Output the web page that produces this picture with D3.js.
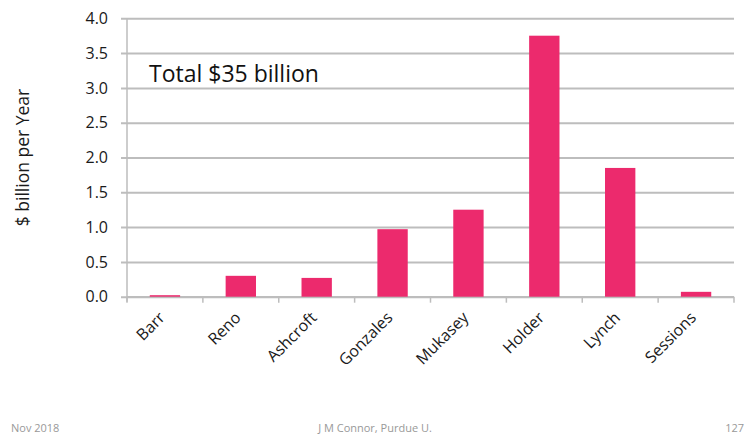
<!DOCTYPE html>
<html lang="en">
  <head>
    <meta charset="UTF-8" />
    <title>Attorney General spending per year</title>
    <script src="https://d3js.org/d3.v7.min.js"></script>
    <style>
      body {
        margin: 0;
        background: #fff;
      }
      svg text {
        font-family: "Open Sans", Lato, sans-serif;
      }
    </style>
  </head>
  <body>
    <div id="chart"></div>
    <script>
      const names = ["Barr", "Reno", "Ashcroft", "Gonzales", "Mukasey", "Holder", "Lynch", "Sessions"];
      const values = [0.01, 0.3, 0.27, 0.97, 1.25, 3.75, 1.85, 0.07];
      const yTicks = [0, 0.5, 1, 1.5, 2, 2.5, 3, 3.5, 4];

      const W = 748, H = 437;
      const m = { top: 18, right: 14, bottom: 141, left: 127 };

      const svg = d3.select("#chart").append("svg").attr("width", W).attr("height", H);

      const x = d3.scaleBand().domain(names).range([m.left, W - m.right]).paddingInner(0.6).paddingOuter(0.3);
      const y = d3.scaleLinear().domain([0, 4]).range([H - m.bottom + 0.7, m.top + 0.3]);

      // gridlines + y labels
      const yAxis = svg.append("g")
        .attr("transform", `translate(${m.left},0)`)
        .call(d3.axisLeft(y).tickValues(yTicks).tickFormat(d3.format(".1f"))
          .tickSize(-(W - m.right - m.left)).tickSizeOuter(0).tickPadding(19));
      yAxis.select(".domain").remove();
      yAxis.selectAll(".tick line").attr("stroke", "#bdbdbd").attr("stroke-width", 2).attr("x1", -6);
      yAxis.selectAll(".tick text").attr("fill", "#1a1a1a").style("font-size", "16px");

      svg.append("line")
        .attr("x1", m.left).attr("x2", m.left)
        .attr("y1", y(4)).attr("y2", y(0) + 5)
        .attr("stroke", "#bdbdbd").attr("stroke-width", 1.5);

      // x axis line with boundary ticks
      svg.append("line")
        .attr("x1", m.left).attr("x2", W - m.right)
        .attr("y1", y(0)).attr("y2", y(0))
        .attr("stroke", "#bdbdbd").attr("stroke-width", 1.5);
      svg.selectAll("line.xtick").data(d3.range(names.length + 1)).enter().append("line")
        .attr("class", "xtick")
        .attr("x1", (i) => m.left + i * x.step())
        .attr("x2", (i) => m.left + i * x.step())
        .attr("y1", y(0)).attr("y2", y(0) + 6)
        .attr("stroke", "#bdbdbd").attr("stroke-width", 1.5);

      // bars
      svg.selectAll("rect.bar").data(names).enter().append("rect")
        .attr("class", "bar")
        .attr("x", (d) => x(d))
        .attr("width", x.bandwidth())
        .attr("y", (d, i) => Math.min(y(values[i]), y(0) - 1.5))
        .attr("height", (d, i) => Math.max(1.5, y(0) - y(values[i])))
        .attr("fill", "#ec2a6d");

      svg.selectAll("text.xlab").data(names).enter().append("text")
        .attr("class", "xlab")
        .attr("text-anchor", "end")
        .attr("transform", (d) => `translate(${x(d) + x.bandwidth() / 2 + 1},${y(0) + 22}) rotate(-45)`)
        .attr("fill", "#1a1a1a")
        .style("font-size", "16px")
        .text((d) => d);

      // y axis title
      svg.append("text")
        .attr("transform", `translate(29,${(y(0) + y(4)) / 2}) rotate(-90)`)
        .attr("text-anchor", "middle")
        .attr("fill", "#1a1a1a")
        .style("font-size", "17.5px")
        .text("$ billion per Year");

      svg.append("text")
        .attr("x", 149).attr("y", 82)
        .attr("fill", "#111")
        .style("font-size", "23px")
        .text("Total $35 billion");

      // footer
      const foot = svg.append("g").attr("fill", "#999").style("font-size", "11px");
      foot.append("text").attr("x", 11).attr("y", 432).text("Nov 2018");
      foot.append("text").attr("x", 375).attr("y", 432).attr("text-anchor", "middle").text("J M Connor, Purdue U.");
      foot.append("text").attr("x", 744).attr("y", 432).attr("text-anchor", "end").text("127");
    </script>
  </body>
</html>
